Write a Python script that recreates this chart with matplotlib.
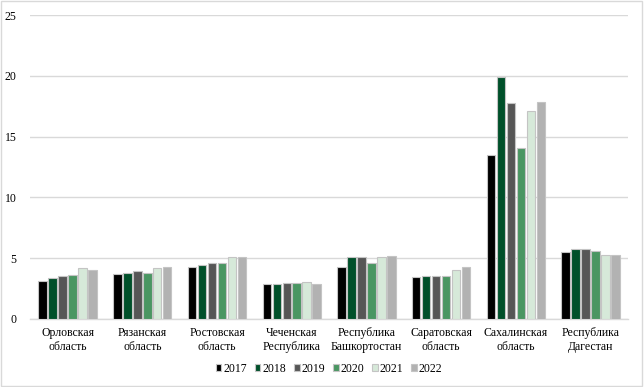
import matplotlib
matplotlib.use("Agg")
import matplotlib.pyplot as plt
import numpy as np

categories = ["Орловская\nобласть", "Рязанская\nобласть", "Ростовская\nобласть",
              "Чеченская\nРеспублика", "Республика\nБашкортостан", "Саратовская\nобласть",
              "Сахалинская\nобласть", "Республика\nДагестан"]
years = ["2017", "2018", "2019", "2020", "2021", "2022"]
v2017 = [3.15, 3.7, 4.25, 2.9, 4.3, 3.43, 13.46, 5.48]
v2018 = [3.35, 3.75, 4.4, 2.85, 5.1, 3.5, 19.9, 5.73]
v2019 = [3.55, 3.9, 4.63, 2.96, 5.1, 3.56, 17.75, 5.73]
v2020 = [3.6, 3.8, 4.58, 2.93, 4.58, 3.56, 14.06, 5.56]
v2021 = [4.15, 4.17, 5.13, 3.0, 5.1, 4.0, 17.1, 5.29]
v2022 = [4.05, 4.25, 5.13, 2.85, 5.18, 4.28, 17.85, 5.26]
series = [v2017, v2018, v2019, v2020, v2021, v2022]
colors = ["#000000", "#00502a", "#565656", "#4a9662", "#d6e9d9", "#b2b2b2"]

plt.rcParams['font.family'] = ['Liberation Serif', 'DejaVu Serif']
fig = plt.figure(figsize=(6.44, 3.87), dpi=100)
ax = fig.add_axes([0.047, 0.176, 0.928, 0.785])

x = np.arange(len(categories))
n = len(series)
bw = 0.8 / n
for i, (vals, c) in enumerate(zip(series, colors)):
    ax.bar(x + (i - (n - 1) / 2) * bw, vals, width=bw * 0.85, color=c,
           edgecolor="#c4c4c4", linewidth=0.8, label=years[i], zorder=3)

ax.set_ylim(0, 25)
ax.set_xlim(-0.5, len(categories) - 0.5)
ax.set_yticks(np.arange(0, 26, 5))
ax.set_xticks(x)
ax.set_xticklabels(categories, fontsize=8.5, linespacing=1.15)
ax.tick_params(axis='y', labelsize=8.5, length=0, pad=10)
ax.tick_params(axis='x', length=0, pad=6)
ax.grid(axis='y', color="#d9d9d9", linewidth=1, zorder=0)
for s in ["top", "right", "left"]:
    ax.spines[s].set_visible(False)
ax.spines["bottom"].set_color("#d9d9d9")
ax.spines["bottom"].set_linewidth(1)

ax.legend(loc="center", bbox_to_anchor=(0.5, -0.165), ncol=6, frameon=False,
          fontsize=8.5, handlelength=0.5, handleheight=0.5, handletextpad=0.2,
          columnspacing=0.6)

fig.patches.append(plt.Rectangle((0.002, 0.003), 0.995, 0.994, transform=fig.transFigure,
                                 fill=False, edgecolor="#d9d9d9", linewidth=1))
fig.savefig("out.png", dpi=100)
